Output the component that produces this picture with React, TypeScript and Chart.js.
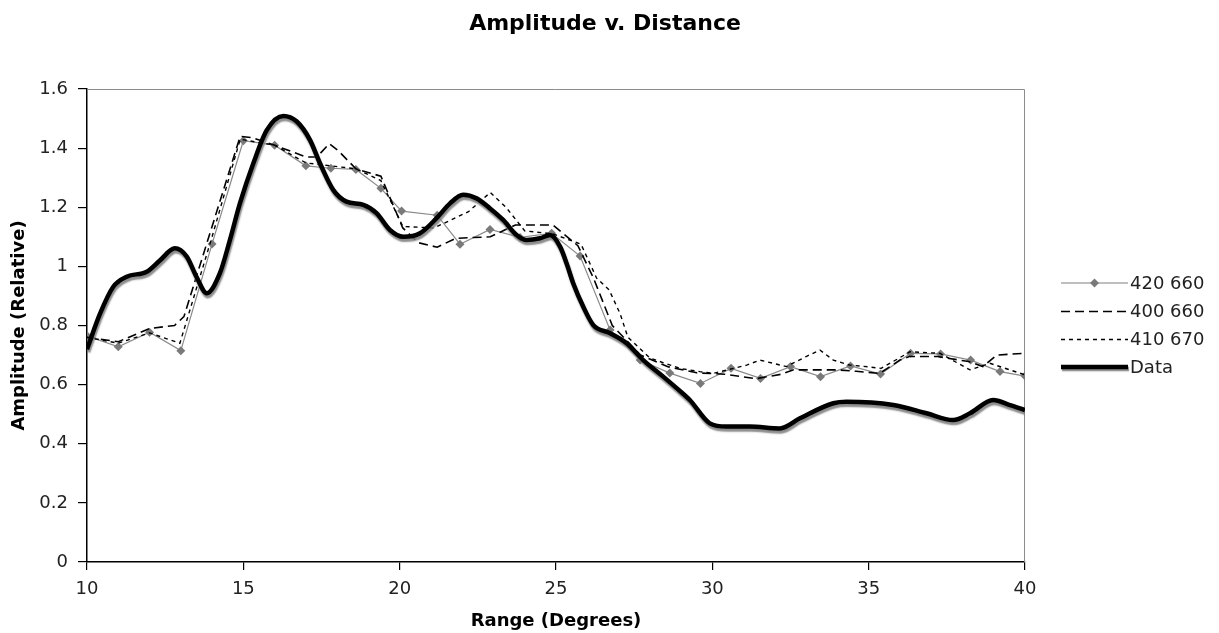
import { useEffect, useRef } from 'react';
import { Chart, registerables } from 'chart.js';

Chart.register(...registerables);

const TITLE = 'Amplitude v. Distance';
const X_TITLE = 'Range (Degrees)';
const Y_TITLE = 'Amplitude (Relative)';
const SERIES_NAMES = ['420 660', '400 660', '410 670', 'Data'];

const s420x = [10, 11, 12, 13, 14, 15, 16, 17, 17.8, 18.6, 19.4, 20.06, 21.2, 21.93, 22.89, 23.85, 24.86, 25.77, 26.73, 27.69, 28.64, 29.62, 30.6, 31.54, 32.5, 33.46, 34.42, 35.38, 36.34, 37.3, 38.26, 39.2, 40];
const s420y = [0.765, 0.728, 0.777, 0.715, 1.076, 1.425, 1.41, 1.34, 1.332, 1.328, 1.264, 1.187, 1.173, 1.075, 1.125, 1.098, 1.112, 1.035, 0.785, 0.683, 0.639, 0.604, 0.655, 0.621, 0.661, 0.627, 0.663, 0.636, 0.706, 0.704, 0.683, 0.644, 0.629];

const s400x = [10, 11, 12, 12.8, 13.1, 14.9, 15.3, 16, 17, 17.35, 17.75, 18.05, 18.6, 19.4, 20.1, 20.6, 21.2, 21.8, 22.9, 23.7, 24.9, 25.7, 26.2, 26.8, 27.7, 28.6, 29.5, 30.4, 31.4, 32.2, 32.6, 34.0, 34.6, 35.35, 36.0, 36.3, 37.2, 38.2, 38.65, 39.1, 40];
const s400y = [0.76, 0.745, 0.79, 0.8, 0.83, 1.44, 1.435, 1.41, 1.37, 1.37, 1.415, 1.39, 1.33, 1.305, 1.13, 1.08, 1.065, 1.095, 1.1, 1.14, 1.14, 1.07, 0.96, 0.8, 0.7, 0.66, 0.64, 0.635, 0.62, 0.635, 0.65, 0.65, 0.645, 0.638, 0.683, 0.695, 0.695, 0.678, 0.661, 0.7, 0.706];

const s410x = [10, 11, 12, 12.97, 14.0, 14.9, 16, 17, 17.8, 18.6, 19.4, 20.1, 21.1, 22.2, 22.9, 23.4, 24.0, 24.9, 25.8, 26.3, 26.7, 27.05, 27.3, 28.0, 28.96, 29.6, 30.03, 31.1, 31.52, 31.95, 32.37, 33.0, 33.44, 33.87, 34.4, 35.0, 35.4, 36.32, 37.28, 38.24, 38.88, 40];
const s410y = [0.76, 0.74, 0.775, 0.74, 1.1, 1.43, 1.41, 1.35, 1.34, 1.33, 1.29, 1.135, 1.13, 1.185, 1.25, 1.2, 1.12, 1.11, 1.075, 0.96, 0.92, 0.84, 0.76, 0.69, 0.655, 0.644, 0.638, 0.666, 0.683, 0.672, 0.661, 0.695, 0.717, 0.683, 0.666, 0.66, 0.655, 0.711, 0.706, 0.65, 0.672, 0.633];

const dataX = [10, 10.42, 10.84, 11.27, 11.91, 12.33, 12.81, 13.19, 13.5, 13.83, 14.25, 14.57, 14.89, 15.32, 15.75, 16.28, 16.71, 17.13, 17.45, 17.88, 18.3, 18.84, 19.26, 19.69, 20.12, 20.65, 21.18, 21.61, 22.03, 22.46, 22.89, 23.31, 23.74, 24.06, 24.49, 24.81, 25.13, 25.34, 25.55, 25.87, 26.19, 26.73, 27.26, 27.79, 28.43, 28.86, 29.28, 29.92, 30.46, 31.2, 32.16, 32.8, 33.87, 34.29, 35.79, 36.85, 37.7, 38.24, 38.98, 39.52, 40];
const dataY = [0.72, 0.841, 0.931, 0.965, 0.982, 1.02, 1.061, 1.033, 0.965, 0.909, 0.977, 1.089, 1.213, 1.349, 1.461, 1.509, 1.49, 1.428, 1.349, 1.258, 1.219, 1.208, 1.18, 1.123, 1.1, 1.112, 1.163, 1.213, 1.242, 1.23, 1.196, 1.157, 1.106, 1.089, 1.095, 1.106, 1.067, 1.01, 0.943, 0.864, 0.802, 0.774, 0.74, 0.683, 0.627, 0.588, 0.548, 0.469, 0.458, 0.458, 0.452, 0.486, 0.537, 0.542, 0.531, 0.503, 0.48, 0.503, 0.548, 0.531, 0.514];

const X_MIN = 10;
const X_MAX = 40;
const X_STEP = 5;
const Y_MIN = 0;
const Y_MAX = 1.6;
const Y_STEP = 0.2;
const Y_TICK_LABELS = ['0', '0.2', '0.4', '0.6', '0.8', '1', '1.2', '1.4', '1.6'];

const FONT = '"DejaVu Sans", Verdana, sans-serif';

const zip = (xs: number[], ys: number[]) => xs.map((x, i) => ({ x, y: ys[i] }));

export default function App() {
  const ref = useRef<HTMLCanvasElement | null>(null);

  useEffect(() => {
    if (!ref.current) return;
    Chart.defaults.font.family = FONT;

    const legendStyles = [
      { color: '#808080', width: 1.2, dash: [] as number[], marker: true },
      { color: '#000000', width: 1.6, dash: [9, 5], marker: false },
      { color: '#000000', width: 1.4, dash: [4, 4], marker: false },
      { color: '#000000', width: 4.5, dash: [] as number[], marker: false },
    ];

    const decor = {
      id: 'decor',
      beforeDatasetsDraw(chart: any) {
        const { ctx, chartArea: a } = chart;
        ctx.save();
        ctx.strokeStyle = '#8c8c8c';
        ctx.lineWidth = 1;
        ctx.beginPath();
        ctx.moveTo(a.left, a.top + 0.5);
        ctx.lineTo(a.right - 0.5, a.top + 0.5);
        ctx.lineTo(a.right - 0.5, a.bottom);
        ctx.stroke();
        ctx.restore();
      },
      beforeDatasetDraw(chart: any, args: any) {
        if (args.index === 3) {
          const ctx = chart.ctx;
          ctx.save();
          ctx.shadowColor = 'rgba(120,120,120,0.85)';
          ctx.shadowOffsetX = 1;
          ctx.shadowOffsetY = 3;
          ctx.shadowBlur = 1.5;
        }
      },
      afterDatasetDraw(chart: any, args: any) {
        if (args.index === 3) chart.ctx.restore();
      },
      afterDraw(chart: any) {
        const ctx = chart.ctx;
        ctx.save();
        ctx.fillStyle = '#000';
        ctx.font = `bold 22px ${FONT}`;
        ctx.textAlign = 'center';
        ctx.textBaseline = 'middle';
        ctx.fillText(TITLE, 605, 24);

        const rows = [283, 311.5, 339.5, 367];
        const x0 = 1061;
        const x1 = 1128;
        SERIES_NAMES.forEach((name, i) => {
          const st = legendStyles[i];
          const y = rows[i];
          ctx.save();
          if (i === 3) {
            ctx.shadowColor = 'rgba(120,120,120,0.85)';
            ctx.shadowOffsetX = 1;
            ctx.shadowOffsetY = 2;
            ctx.shadowBlur = 1;
          }
          ctx.strokeStyle = st.color;
          ctx.lineWidth = st.width;
          ctx.setLineDash(st.dash);
          ctx.beginPath();
          ctx.moveTo(x0, y);
          ctx.lineTo(x1, y);
          ctx.stroke();
          ctx.restore();
          if (st.marker) {
            const cx = (x0 + x1) / 2;
            ctx.fillStyle = '#7a7a7a';
            ctx.beginPath();
            ctx.moveTo(cx, y - 4.5);
            ctx.lineTo(cx + 4.5, y);
            ctx.lineTo(cx, y + 4.5);
            ctx.lineTo(cx - 4.5, y);
            ctx.closePath();
            ctx.fill();
          }
          ctx.fillStyle = '#222';
          ctx.font = `18px ${FONT}`;
          ctx.textAlign = 'left';
          ctx.textBaseline = 'middle';
          ctx.fillText(name, 1130, y + 1);
        });
        ctx.restore();
      },
    };

    const chart = new Chart(ref.current, {
      type: 'scatter',
      data: {
        datasets: [
          {
            label: SERIES_NAMES[0],
            data: zip(s420x, s420y),
            showLine: true,
            borderColor: '#8a8a8a',
            borderWidth: 1.2,
            pointStyle: 'rectRot',
            pointRadius: 4.5,
            pointBackgroundColor: '#7a7a7a',
            pointBorderColor: '#7a7a7a',
            pointBorderWidth: 0,
            tension: 0,
            order: 3,
          },
          {
            label: SERIES_NAMES[1],
            data: zip(s400x, s400y),
            showLine: true,
            borderColor: '#000',
            borderWidth: 1.6,
            borderDash: [9, 5],
            pointRadius: 0,
            tension: 0,
            order: 2,
          },
          {
            label: SERIES_NAMES[2],
            data: zip(s410x, s410y),
            showLine: true,
            borderColor: '#000',
            borderWidth: 1.4,
            borderDash: [4, 4],
            pointRadius: 0,
            tension: 0,
            order: 1,
          },
          {
            label: SERIES_NAMES[3],
            data: zip(dataX, dataY),
            showLine: true,
            borderColor: '#000',
            borderWidth: 4.5,
            pointRadius: 0,
            cubicInterpolationMode: 'monotone',
            order: 0,
          },
        ],
      },
      options: {
        responsive: false,
        animation: false,
        devicePixelRatio: 1,
        layout: { padding: { top: 89, right: 194, left: 0, bottom: 0 } },
        plugins: {
          legend: { display: false },
          title: { display: false },
          tooltip: { enabled: false },
        },
        scales: {
          x: {
            type: 'linear',
            min: X_MIN,
            max: X_MAX,
            afterFit: (s: any) => { s.height = 71; },
            ticks: { stepSize: X_STEP, color: '#222', font: { size: 18 }, padding: 9 },
            grid: { drawOnChartArea: false, drawTicks: true, tickLength: 8, color: '#000', lineWidth: 1.2 },
            border: { display: true, color: '#000', width: 1.5 },
            title: { display: true, text: X_TITLE, color: '#000', font: { size: 18, weight: 'bold' }, padding: { top: 0, bottom: 1 } },
          },
          y: {
            type: 'linear',
            min: Y_MIN,
            max: Y_MAX,
            afterFit: (s: any) => { s.width = 87; },
            ticks: {
              stepSize: Y_STEP,
              color: '#222',
              font: { size: 18 },
              padding: 10,
              callback: (_v: any, i: number) => Y_TICK_LABELS[i],
            },
            grid: { drawOnChartArea: false, drawTicks: true, tickLength: 9, color: '#000', lineWidth: 1.2 },
            border: { display: true, color: '#000', width: 1.5 },
            title: { display: true, text: Y_TITLE, color: '#000', font: { size: 18, weight: 'bold' }, padding: { top: 9, bottom: 0 } },
          },
        },
      },
      plugins: [decor],
    } as any);

    return () => chart.destroy();
  }, []);

  return (
    <div style={{ position: 'absolute', left: 0, top: 0, width: 1219, height: 633, background: '#fff' }}>
      <canvas ref={ref} width={1219} height={633} />
    </div>
  );
}
